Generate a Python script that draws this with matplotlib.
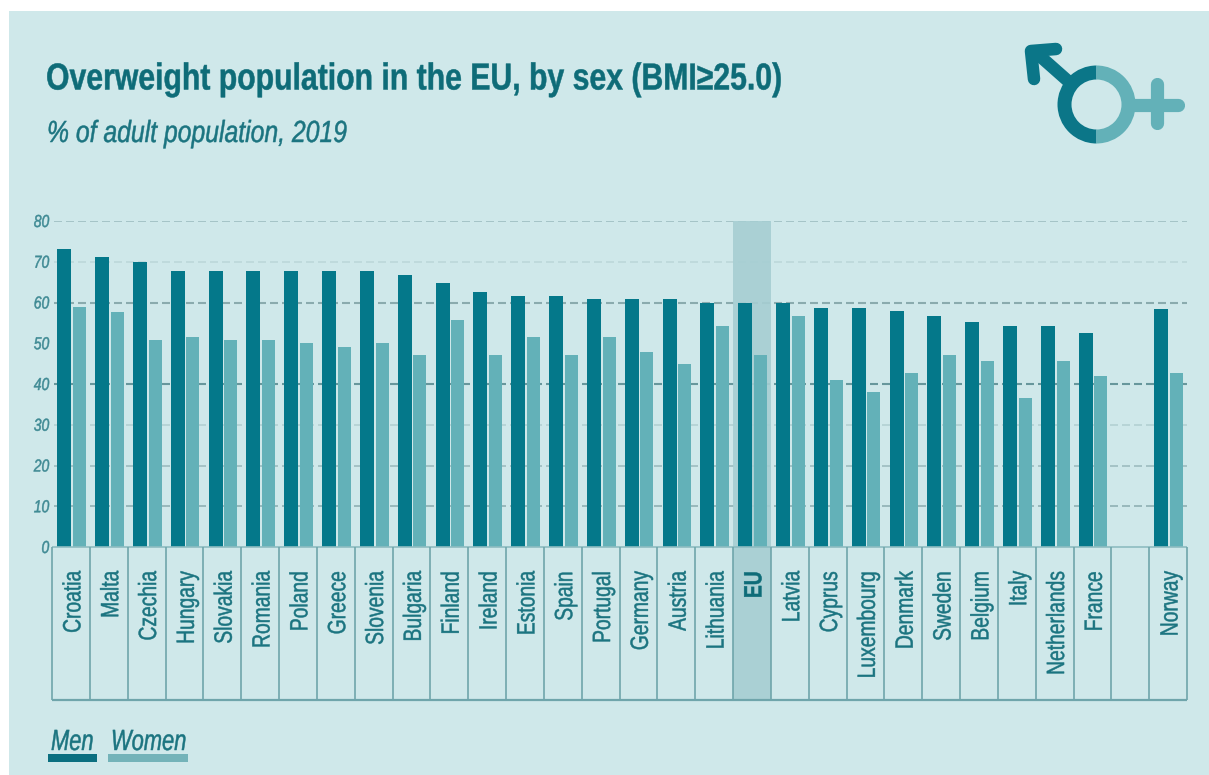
#!/usr/bin/env python
import numpy as np
from matplotlib import pyplot as plt
from matplotlib.patches import Wedge, Rectangle
from matplotlib.patheffects import AbstractPathEffect
from matplotlib.transforms import Affine2D

countries = ['Croatia', 'Malta', 'Czechia', 'Hungary', 'Slovakia', 'Romania', 'Poland', 'Greece',
             'Slovenia', 'Bulgaria', 'Finland', 'Ireland', 'Estonia', 'Spain', 'Portugal', 'Germany',
             'Austria', 'Lithuania', 'EU', 'Latvia', 'Cyprus', 'Luxembourg', 'Denmark', 'Sweden',
             'Belgium', 'Italy', 'Netherlands', 'France', '', 'Norway']
men = [73.1, 71.1, 69.9, 67.8, 67.8, 67.8, 67.8, 67.8,
       67.8, 66.7, 64.9, 62.5, 61.5, 61.5, 60.9, 60.9,
       60.9, 59.9, 59.9, 59.9, 58.7, 58.7, 57.8, 56.6,
       55.2, 54.2, 54.2, 52.5, np.nan, 58.3]
women = [58.8, 57.6, 50.8, 51.6, 50.8, 50.8, 50.0, 49.2,
         50.0, 47.0, 55.8, 47.0, 51.6, 47.0, 51.6, 47.8,
         44.9, 54.2, 47.0, 56.6, 41.0, 38.0, 42.8, 47.0,
         45.6, 36.6, 45.6, 41.9, np.nan, 42.8]
yticks = [0, 10, 20, 30, 40, 50, 60, 70, 80]
grid_levels = [80, 70, 60, 40, 30, 20, 10]
grid_colors = ['#9dbdc0', '#bcd8da', '#8aabae', '#67979c', '#b3d0d2', '#9dbcbf', '#8fb0b3']
grid_widths = [1.2, 1.2, 1.5, 1.5, 1.2, 1.2, 1.2]

BG = '#cfe8ea'
DARK = '#04788a'
LIGHT = '#63b1b8'
TEXT = '#1b7480'
FONT = 'Liberation Sans'


# no condensed face installed, so squeeze the glyphs along the text direction
# a thin stroke brings back the weight lost by squeezing
class Condense(AbstractPathEffect):
    def __init__(self, sx, anchor='left', stroke=0.35):
        super().__init__()
        self.sx = sx
        self.anchor = anchor
        self.stroke = stroke

    def draw_path(self, renderer, gc, tpath, affine, rgbFace=None):
        x0 = tpath.get_extents().x1 if self.anchor == 'right' else 0
        squeeze = Affine2D().translate(-x0, 0).scale(self.sx, 1).translate(x0, 0)
        gc0 = renderer.new_gc()
        gc0.copy_properties(gc)
        gc0.set_foreground(rgbFace)
        gc0.set_linewidth(self.stroke)
        renderer.draw_path(gc0, tpath, squeeze + affine, rgbFace)
        gc0.restore()


W, H = 1209, 775
fig = plt.figure(figsize=(W/100, H/100), dpi=100, facecolor='white')

# overlay in pixel coordinates for panel, header, icon and legend
bg = fig.add_axes([0, 0, 1, 1], zorder=0)
bg.set_xlim(0, W)
bg.set_ylim(H, 0)
bg.axis('off')
bg.add_patch(Rectangle((9, 11), W-9, H-11, color=BG, lw=0))

bg.text(46, 89.5, 'Overweight population in the EU, by sex (BMI\u226525.0)', family=FONT,
        weight='bold', fontsize=27, color='#0e6c78', va='baseline', path_effects=[Condense(0.805)])
bg.text(47, 142, '% of adult population, 2019', family=FONT, style='italic',
        fontsize=22, color=TEXT, va='baseline', path_effects=[Condense(0.81)])

# sex symbol
cx, cy = 1096.5, 104.5
bg.add_patch(Wedge((cx, cy), 39, 90, 270, width=14, color='#0b7688', lw=0))
bg.add_patch(Wedge((cx, cy), 39, -90, 90, width=14, color=LIGHT, lw=0))
bg.plot([1068, 1033], [81, 50], color='#0b7688', lw=9, solid_capstyle='butt')
bg.plot([1056, 1031, 1034], [49, 51, 79], color='#0b7688', lw=9, solid_capstyle='round',
        solid_joinstyle='round')
bg.plot([1133, 1178], [cy, cy], color=LIGHT, lw=9.5, solid_capstyle='round')
bg.plot([1157, 1157], [84, 123], color=LIGHT, lw=9.5, solid_capstyle='round')

# legend
bg.text(51, 750, 'Men', family=FONT, style='italic', fontsize=21, color=TEXT, va='baseline',
        path_effects=[Condense(0.75)])
bg.text(111, 750, 'Women', family=FONT, style='italic', fontsize=21, color=TEXT, va='baseline',
        path_effects=[Condense(0.75)])
bg.add_patch(Rectangle((47.5, 754), 49, 7.5, color='#0b6f80', lw=0))
bg.add_patch(Rectangle((108, 754), 80, 7.5, color='#74b3b9', lw=0))

# chart
left, right, top, bottom = 52, 1187, 221, 700
ax = fig.add_axes([left/W, 1-bottom/H, (right-left)/W, (bottom-top)/H], zorder=1)
ax.patch.set_alpha(0)
n = len(countries)
x = np.arange(n)
ybottom = -(bottom-547)/4.075
ax.set_xlim(-0.5, n-0.5)
ax.set_ylim(ybottom, 80)

for lev, c, lw in zip(grid_levels, grid_colors, grid_widths):
    ax.axhline(lev, color=c, lw=lw, linestyle=(0, (5.76/lw, 2.88/lw)), zorder=1, xmin=0.002)

eu = countries.index('EU')
ax.axvspan(eu-0.5, eu+0.5, color='#a6ced2', alpha=0.9, lw=0, zorder=2)

ax.bar(x-0.175, men, width=0.37, color=DARK, zorder=3)
ax.bar(x+0.225, women, width=0.345, color=LIGHT, zorder=3)

# label cells under the bars
ax.hlines(0, -0.5, n-0.5, color='#8dbcc1', lw=1.2, zorder=4, clip_on=False)
ax.hlines(ybottom, -0.5, n-0.5, color='#6fa5ab', lw=1.6, zorder=4, clip_on=False)
ax.vlines(x[:-1]+0.5, ybottom, 0, color='#6fa5ab', lw=1.2, zorder=4)
ax.vlines([-0.5, n-0.5], ybottom, 0, color='#6fa5ab', lw=1.2, zorder=4, clip_on=False)

for i, name in enumerate(countries):
    ax.text(i+0.25, -5.9, name, rotation=90, rotation_mode='anchor', ha='right', va='baseline',
            family=FONT, fontsize=18, color='#0e6c78' if name == 'EU' else TEXT,
            weight='bold' if name == 'EU' else 'normal', zorder=5,
            path_effects=[Condense(0.77, 'right')])

ax.set_xticks([])
ax.set_yticks(yticks)
ax.set_yticklabels([str(v) for v in yticks], family=FONT, style='italic', fontsize=12.5, color='#3f8a94')
for lab in ax.get_yticklabels():
    lab.set_path_effects([Condense(0.8, 'right')])
ax.tick_params(axis='y', length=0, pad=2)
for s in ax.spines.values():
    s.set_visible(False)

fig.savefig('out.png', dpi=100)
